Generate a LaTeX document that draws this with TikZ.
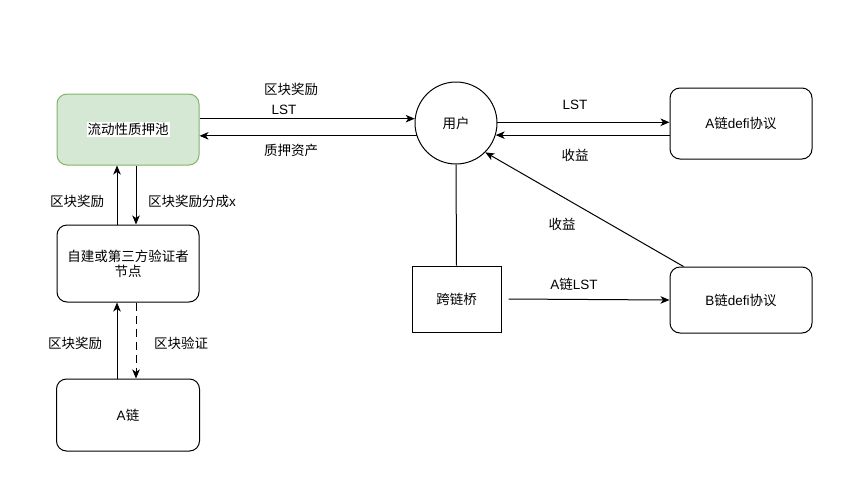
\documentclass[tikz,border=0pt]{standalone}
\usepackage{fontspec}
\setmainfont{Liberation Sans}
\newfontfamily\cjk{Noto Sans CJK SC}
\newcommand\zh[1]{{\cjk #1}}
\usetikzlibrary{arrows.meta}
\definecolor{poolfill}{HTML}{D5E8D4}
\definecolor{poolline}{HTML}{82B366}
\begin{document}
\begin{tikzpicture}[x=1pt,y=-1pt,
  font=\fontsize{13.5}{16}\selectfont,
  line width=1pt,
  box/.style={draw=black, rounded corners=10pt, minimum width=142pt, align=center, inner sep=0pt},
  arr/.style={-{Stealth[length=9pt,width=7.5pt,inset=2.5pt]}},
  lbl/.style={inner sep=0pt}]
\useasboundingbox (0,0) rectangle (860,483);
% nodes
\node[box, draw=poolline, fill=poolfill, minimum height=71pt] (pool) at (128,129.5) {};
\node[lbl, fill=white, inner sep=1pt] (poolt) at (pool.center) {\zh{流动性质押池}};
\node[box, minimum height=77pt] (valid) at (128,263.5) {\zh{自建或第三方验证者}\\[-1pt]\zh{节点}};
\node[box, minimum height=72pt, minimum width=143pt] (achain) at (128,415) {A\zh{链}};
\node[draw, circle, minimum size=82pt, inner sep=0pt] (user) at (456,123) {\zh{用户}};
\node[box, minimum height=71pt] (adefi) at (741,123.5) {A\zh{链}defi\zh{协议}};
\node[draw, minimum width=89pt, minimum height=66pt, inner sep=0pt] (bridge) at (456.5,299) {\zh{跨链桥}};
\node[box, minimum height=66pt] (bdefi) at (741,300) {B\zh{链}defi\zh{协议}};
% connectors
\draw[arr] (pool.east |- user.174) -- (user.174);
\draw[arr] (user.198) -- (pool.east |- user.198);
\draw[arr] (user.1) -- (adefi.west |- user.1);
\draw[arr] (adefi.west |- user.-17) -- (user.-17);
\draw[arr] ([xshift=14pt]bdefi.north west) -- (user.-45);
\draw (user.south) -- (bridge.north);
\draw[arr] ([xshift=7pt]bridge.east) -- (bdefi.west);
\draw[arr] ([xshift=-11pt]valid.north) -- ([xshift=-11pt]pool.south);
\draw[arr] ([xshift=8pt]pool.south) -- ([xshift=8pt]valid.north);
\draw[arr] ([xshift=-11pt]achain.north) -- ([xshift=-11pt]valid.south);
\draw[arr, dash pattern=on 8pt off 5pt] ([xshift=8pt]valid.south) -- ([xshift=8pt]achain.north);
% labels
\node[lbl] (l1) at (291,89) {\zh{区块奖励}};
\node[lbl] (l2) at (284,110) {LST};
\node[lbl] (l3) at (291,150) {\zh{质押资产}};
\node[lbl] (l4) at (575,105) {LST};
\node[lbl] (l5) at (575,155) {\zh{收益}};
\node[lbl] (l6) at (562,224) {\zh{收益}};
\node[lbl] (l7) at (574,284) {A\zh{链}LST};
\node[lbl] (l8) at (77,201) {\zh{区块奖励}};
\node[lbl] (l9) at (192,201) {\zh{区块奖励分成}x};
\node[lbl] (l10) at (75,343) {\zh{区块奖励}};
\node[lbl] (l11) at (181,343) {\zh{区块验证}};
\end{tikzpicture}
\end{document}
